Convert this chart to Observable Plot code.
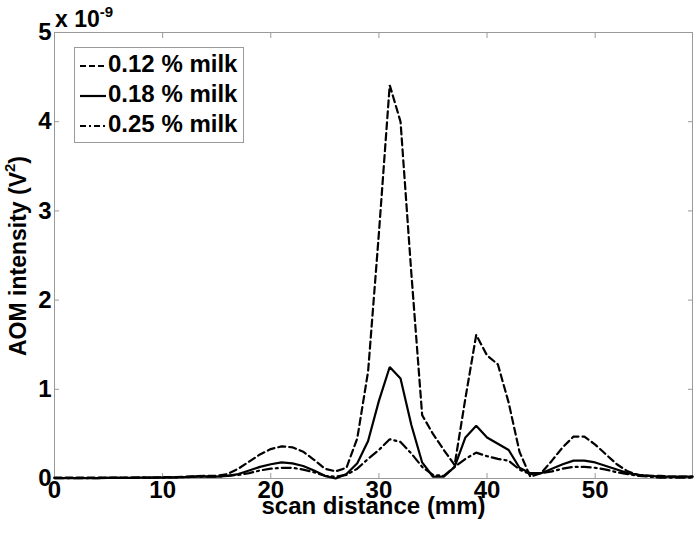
<!DOCTYPE html>
<html>
<head>
<meta charset="utf-8">
<script src="https://cdn.jsdelivr.net/npm/d3@7"></script>
<script src="https://cdn.jsdelivr.net/npm/@observablehq/plot@0.6"></script>
<style>
  html, body { margin: 0; padding: 0; background: white; }
</style>
</head>
<body>
<div id="chart"></div>
<script>
// scan distance (mm)
const scanDistance = [0,1,2,3,4,5,6,7,8,9,10,11,12,13,14,15,16,17,18,19,20,21,22,23,24,25,26,27,28,29,30,31,32,33,34,35,36,37,38,39,40,41,42,43,44,45,46,47,48,49,50,51,52,53,54,55,56,57,58,59];

// AOM intensity (x 1e-9 V^2)
const milk012 = [0.01,0.01,0.01,0.01,0.01,0.01,0.01,0.01,0.01,0.01,0.015,0.015,0.02,0.025,0.03,0.03,
  0.05,0.11,0.19,0.27,0.33,0.36,0.35,0.30,0.21,0.11,0.08,0.12,0.45,1.20,2.75,4.41,4.00,2.30,0.71,0.50,0.32,0.15,0.90,1.61,1.38,1.28,0.85,0.30,0.02,0.06,0.20,0.35,0.47,0.47,0.38,0.27,0.16,0.08,0.04,0.03,0.03,0.02,0.02,0.02];
const milk018 = [0.005,0.005,0.005,0.005,0.005,0.008,0.008,0.008,0.01,0.01,0.01,0.012,0.015,0.02,0.02,0.02,
  0.03,0.05,0.09,0.13,0.16,0.18,0.17,0.14,0.09,0.03,0.00,0.05,0.17,0.42,0.87,1.25,1.12,0.60,0.18,0.02,0.02,0.13,0.46,0.59,0.46,0.39,0.32,0.12,0.06,0.06,0.11,0.16,0.20,0.20,0.18,0.14,0.10,0.06,0.04,0.03,0.02,0.02,0.02,0.02];
const milk025 = [0.005,0.005,0.005,0.005,0.005,0.008,0.008,0.008,0.01,0.01,0.01,0.012,0.015,0.02,0.02,0.02,
  0.03,0.04,0.06,0.09,0.11,0.12,0.12,0.10,0.07,0.03,0.02,0.04,0.11,0.22,0.32,0.44,0.41,0.28,0.13,0.04,0.03,0.13,0.22,0.29,0.25,0.22,0.20,0.10,0.05,0.06,0.08,0.11,0.13,0.13,0.12,0.10,0.07,0.05,0.03,0.02,0.01,0.01,0.01,0.01];

const seriesLabels = ["0.12 % milk", "0.18 % milk", "0.25 % milk"];
const xTicks = [0, 10, 20, 30, 40, 50];
const yTicks = [0, 1, 2, 3, 4, 5];

const dashes = ["7,4", null, "9,4,2,4"];
const frameGray = "#9a9a9a";
const font = "'Liberation Sans', Arial, Helvetica, sans-serif";

const series = [milk012, milk018, milk025];

const chart = Plot.plot({
  width: 696,
  height: 533,
  marginLeft: 54,
  marginRight: 4,
  marginTop: 32,
  marginBottom: 55,
  x: {domain: [0, 59]},
  y: {domain: [0, 5]},
  style: {fontFamily: font, fontWeight: "bold", fontSize: "24px", color: "black", background: "white"},
  marks: [
    Plot.frame({stroke: frameGray, strokeWidth: 1}),
    Plot.axisX(xTicks, {anchor: "bottom", tickSize: -5, tickFormat: () => "", stroke: frameGray, label: null}),
    Plot.axisX(xTicks, {anchor: "top", tickSize: -5, tickFormat: () => "", stroke: frameGray, label: null}),
    Plot.axisY(yTicks, {anchor: "left", tickSize: -5, tickFormat: () => "", stroke: frameGray, label: null}),
    Plot.axisY(yTicks, {anchor: "right", tickSize: -5, tickFormat: () => "", stroke: frameGray, label: null}),
    Plot.axisX(xTicks, {anchor: "bottom", tickSize: 0, tickPadding: 2, tickFormat: d => String(d), label: null, fontSize: 24, fontWeight: "bold"}),
    Plot.axisY(yTicks, {anchor: "left", tickSize: 0, tickPadding: 3, tickFormat: d => String(d), label: null, fontSize: 24, fontWeight: "bold"}),
    ...series.map((vals, k) => Plot.line(vals, {
      x: (d, i) => scanDistance[i],
      y: d => d,
      stroke: "black",
      strokeWidth: 2.2,
      strokeDasharray: dashes[k],
      strokeLinejoin: "miter",
      curve: "linear"
    })),
    Plot.text(["scan distance (mm)"], {frameAnchor: "bottom", dy: 35, fontSize: 24, fontWeight: "bold", text: d => d})
  ]
});

const svg = d3.select(chart);

// y-axis label with superscript
const yl = svg.append("text")
  .attr("transform", "translate(20,256) rotate(-90)")
  .attr("text-anchor", "middle")
  .attr("dominant-baseline", "middle")
  .style("font-family", font)
  .style("font-weight", "bold")
  .style("font-size", "23px")
  .attr("fill", "black");
yl.append("tspan").text("AOM intensity (V");
yl.append("tspan").attr("dy", -9).style("font-size", "15px").text("2");
yl.append("tspan").attr("dy", 9).text(")");

// exponent label
const ex = svg.append("text")
  .attr("x", 55).attr("y", 27)
  .attr("text-anchor", "start")
  .style("font-family", font)
  .style("font-weight", "bold")
  .style("font-size", "23px")
  .attr("fill", "black");
ex.append("tspan").text("x 10");
ex.append("tspan").attr("dy", -10).style("font-size", "15px").text("-9");

// legend
const lg = svg.append("g");
lg.append("rect")
  .attr("x", 74.5).attr("y", 47.5).attr("width", 169).attr("height", 95)
  .attr("fill", "white").attr("stroke", frameGray);
seriesLabels.forEach((lab, k) => {
  const yy = 66 + k * 30;
  lg.append("line")
    .attr("x1", 80).attr("x2", 106).attr("y1", yy).attr("y2", yy)
    .attr("stroke", "black").attr("stroke-width", 2.2)
    .attr("stroke-dasharray", k === 0 ? "6,3" : (k === 2 ? "6,3,2,3" : null));
  lg.append("text")
    .attr("x", 108).attr("y", yy)
    .attr("text-anchor", "start")
    .attr("dominant-baseline", "middle")
    .style("font-family", font)
    .style("font-weight", "bold")
    .style("font-size", "24px")
    .attr("fill", "black")
    .text(lab);
});

document.getElementById("chart").appendChild(chart);
</script>
</body>
</html>
